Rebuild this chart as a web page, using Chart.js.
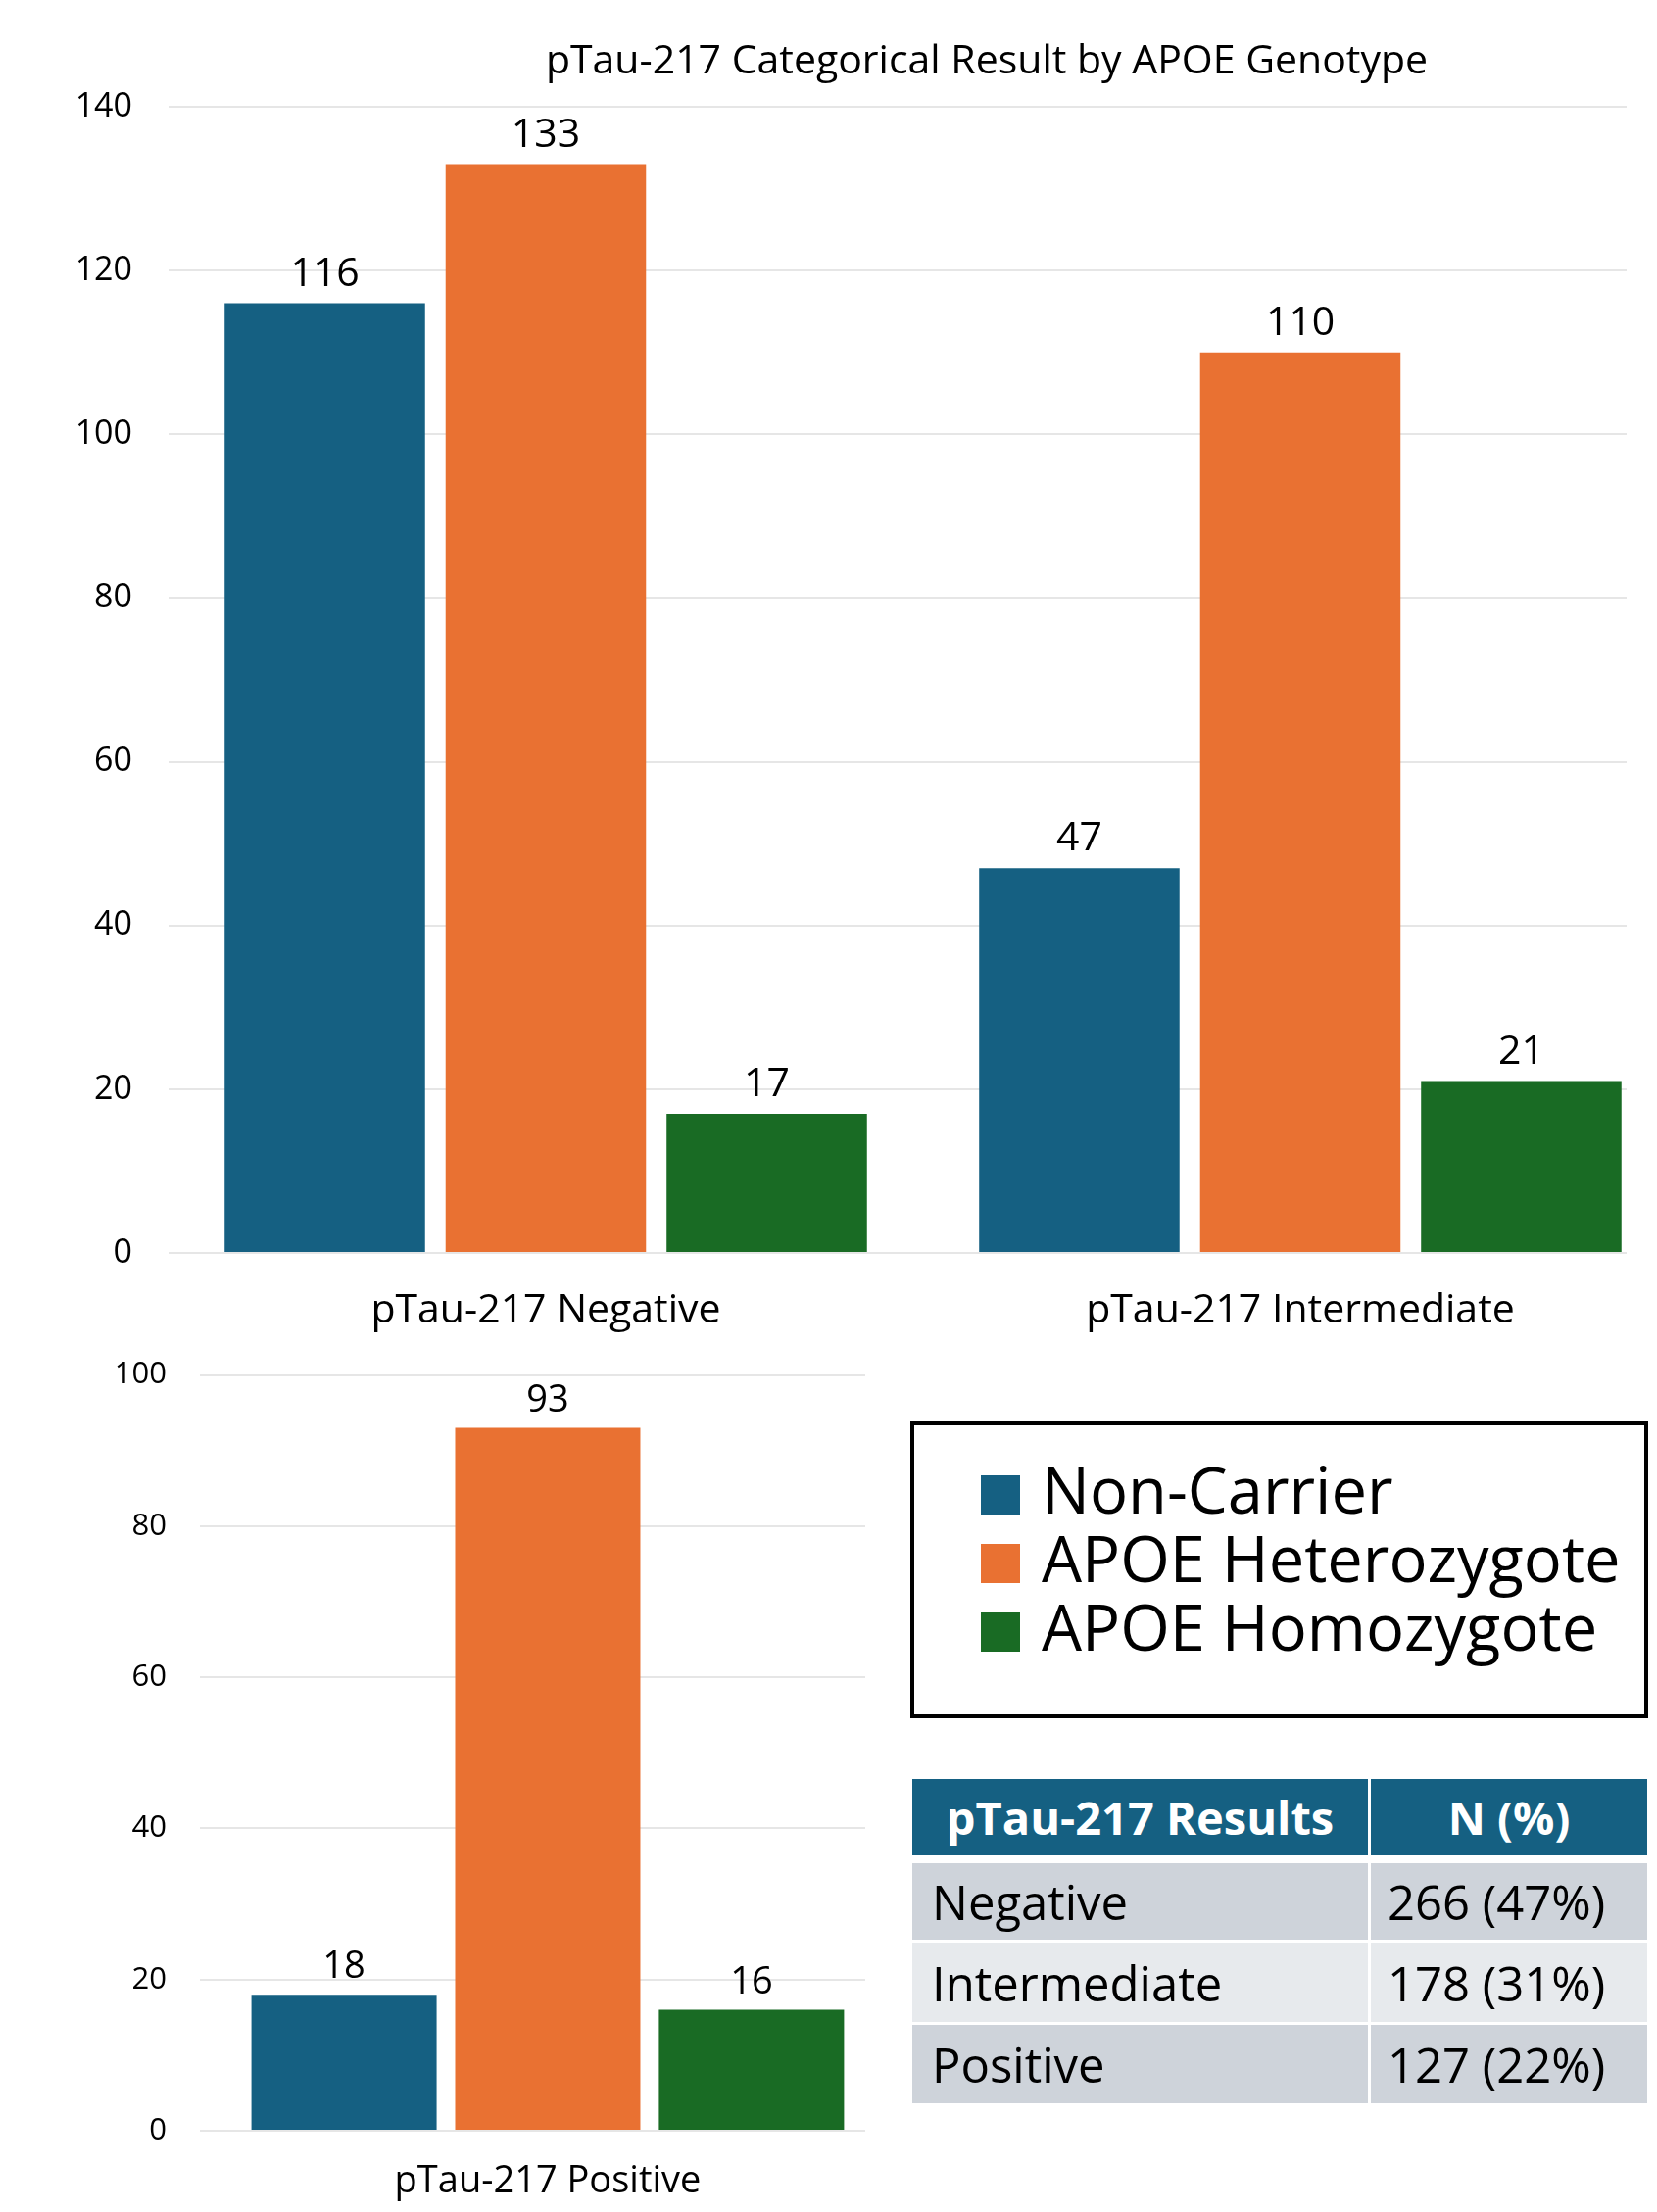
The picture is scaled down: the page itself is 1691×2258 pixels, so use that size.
<!DOCTYPE html>
<html>
<head>
<meta charset="utf-8">
<script src="https://cdn.jsdelivr.net/npm/chart.js@4.4.1/dist/chart.umd.min.js"></script>
<style>
  html, body { margin: 0; padding: 0; background: #fff; }
  body { width: 1691px; height: 2258px; position: relative; overflow: hidden; font-family: 'Open Sans', sans-serif; }
  #topWrap { position: absolute; left: 0; top: 0; width: 1691px; height: 1380px; }
  #bottomWrap { position: absolute; left: 0; top: 1351px; width: 925px; height: 907px; }
  #legend { position: absolute; left: 929px; top: 1451px; width: 753px; height: 303px; border: 4px solid #000; box-sizing: border-box; }
  #legend .sw { position: absolute; left: 68px; width: 40px; height: 40px; }
  #legend .tx { position: absolute; left: 130px; font-size: 65px; line-height: 65px; color: #000; white-space: nowrap; }
  #results { position: absolute; left: 931px; top: 1816px; display: grid; grid-template-columns: 465px 282px; grid-template-rows: 83px 78px 81px 80px; column-gap: 3px; row-gap: 3px; }
  #results div { display: flex; align-items: center; font-size: 49px; color: #000; white-space: nowrap; }
  #results .hd { background: #156082; color: #fff; font-weight: bold; font-size: 47px; justify-content: center; height: 78px; align-self: start; }
  #results .c1 { padding-left: 20px; }
  #results .c2 { padding-left: 17px; }
</style>
</head>
<body>
<div id="topWrap"><canvas id="topChart"></canvas></div>
<div id="bottomWrap"><canvas id="bottomChart"></canvas></div>
<div id="legend"></div>
<div id="results"></div>
<script>
// donnees
const topCategories = ['pTau-217 Negative', 'pTau-217 Intermediate'];
const bottomCategories = ['pTau-217 Positive'];
const genotypes = ['Non-Carrier', 'APOE Heterozygote', 'APOE Homozygote'];
const nonCarrier = [116, 47, 18];
const heterozygote = [133, 110, 93];
const homozygote = [17, 21, 16];
const topTicks = [0, 140, 20];
const bottomTicks = [0, 100, 20];

// petit tableau a droite
const resultLabels = ['Negative', 'Intermediate', 'Positive'];
const resultCounts = [266, 178, 127];
const resultPercents = [47, 31, 22];

const colors = ['#156082', '#E97132', '#196B24'];
const seriesList = [nonCarrier, heterozygote, homozygote];

Chart.defaults.font.family = "'Open Sans', sans-serif";
Chart.defaults.color = '#000';

// etiquettes de valeurs au dessus des barres
const valueLabels = {
  id: 'valueLabels',
  afterDatasetsDraw(chart, args, opts) {
    const ctx = chart.ctx;
    ctx.save();
    ctx.font = opts.size + "px 'Open Sans', sans-serif";
    ctx.fillStyle = '#000';
    ctx.textAlign = 'center';
    ctx.textBaseline = 'alphabetic';
    chart.data.datasets.forEach(function (ds, i) {
      chart.getDatasetMeta(i).data.forEach(function (bar, j) {
        ctx.fillText(String(ds.data[j].y), bar.x, bar.y - opts.gap);
      });
    });
    ctx.restore();
  }
};

// titre place a la main
const fixedTitle = {
  id: 'fixedTitle',
  afterDraw(chart, args, opts) {
    if (!opts.text) return;
    const ctx = chart.ctx;
    ctx.save();
    ctx.font = opts.size + "px 'Open Sans', sans-serif";
    ctx.fillStyle = '#000';
    ctx.textAlign = 'center';
    ctx.fillText(opts.text, opts.x, opts.y);
    ctx.restore();
  }
};

function makeDatasets(offset, count) {
  let sets = [];
  seriesList.forEach(function (serie, i) {
    let pts = [];
    for (let k = 0; k < count; k++) {
      pts.push({ x: k, y: serie[offset + k] });
    }
    sets.push({
      label: genotypes[i],
      data: pts,
      backgroundColor: colors[i],
      borderWidth: 0
    });
  });
  return sets;
}

function makeChart(canvasId, cfg) {
  let sets = makeDatasets(cfg.offset, cfg.categories.length);
  sets.forEach(function (s) {
    s.categoryPercentage = cfg.catPct;
    s.barPercentage = cfg.barPct;
  });
  return new Chart(document.getElementById(canvasId), {
    type: 'bar',
    data: { datasets: sets },
    options: {
      responsive: true,
      maintainAspectRatio: false,
      animation: false,
      layout: { padding: cfg.padding },
      plugins: {
        legend: { display: false },
        tooltip: { enabled: false },
        valueLabels: { size: cfg.valueSize, gap: cfg.valueGap },
        fixedTitle: cfg.title
      },
      scales: {
        x: {
          type: 'linear',
          offset: false,
          min: cfg.xMin,
          max: cfg.xMax,
          afterBuildTicks: function (scale) {
            scale.ticks = cfg.categories.map(function (c, i) { return { value: i }; });
          },
          afterFit: function (scale) { scale.height = cfg.xHeight; },
          ticks: {
            callback: function (v) { return cfg.categories[v]; },
            font: { size: cfg.catSize },
            padding: cfg.catPad,
            maxRotation: 0,
            minRotation: 0
          },
          grid: { display: false },
          border: { display: false }
        },
        y: {
          min: cfg.yTicks[0],
          max: cfg.yTicks[1],
          afterFit: function (scale) { scale.width = cfg.yWidth; },
          ticks: { stepSize: cfg.yTicks[2], font: { size: cfg.tickSize }, padding: cfg.tickPad },
          grid: { color: '#E6E6E6', lineWidth: 2, drawTicks: false },
          border: { display: false }
        }
      }
    },
    plugins: [valueLabels, fixedTitle]
  });
}

makeChart('topChart', {
  offset: 0,
  categories: topCategories,
  catPct: 0.8786,
  barPct: 0.907,
  padding: { top: 109, right: 31, left: 0, bottom: 0 },
  xMin: -0.5,
  xMax: 1.4325,
  xHeight: 101,
  yWidth: 172,
  yTicks: topTicks,
  tickSize: 34,
  tickPad: 37,
  catSize: 41,
  catPad: 27,
  valueSize: 41,
  valueGap: 18,
  title: { text: 'pTau-217 Categorical Result by APOE Genotype', x: 1007, y: 75, size: 41 }
});

// la marge haute vient des etiquettes de l'axe y (moitie + padding)
makeChart('bottomChart', {
  offset: 2,
  categories: bottomCategories,
  catPct: 0.9186,
  barPct: 0.909,
  padding: { top: 0, right: 42, left: 0, bottom: 0 },
  xMin: -0.5228,
  xMax: 0.4772,
  xHeight: 83,
  yWidth: 204,
  yTicks: bottomTicks,
  tickSize: 31,
  tickPad: 34,
  catSize: 38,
  catPad: 21,
  valueSize: 38,
  valueGap: 17,
  title: { text: '' }
});

// legende dans son cadre
let legend = document.getElementById('legend');
genotypes.forEach(function (g, i) {
  let sw = document.createElement('div');
  sw.className = 'sw';
  sw.style.background = colors[i];
  sw.style.top = (51 + i * 70) + 'px';
  legend.appendChild(sw);
  let tx = document.createElement('div');
  tx.className = 'tx';
  tx.style.top = (33 + i * 70) + 'px';
  tx.textContent = g;
  legend.appendChild(tx);
});

// tableau des resultats
let table = document.getElementById('results');
let rowColors = ['#CED3DA', '#E7EAED', '#CED3DA'];
['pTau-217 Results', 'N (%)'].forEach(function (h) {
  let d = document.createElement('div');
  d.className = 'hd';
  d.textContent = h;
  table.appendChild(d);
});
resultLabels.forEach(function (lab, i) {
  let a = document.createElement('div');
  a.className = 'c1';
  a.style.background = rowColors[i];
  a.textContent = lab;
  table.appendChild(a);
  let b = document.createElement('div');
  b.className = 'c2';
  b.style.background = rowColors[i];
  b.textContent = resultCounts[i] + ' (' + resultPercents[i] + '%)';
  table.appendChild(b);
});
</script>
</body>
</html>
